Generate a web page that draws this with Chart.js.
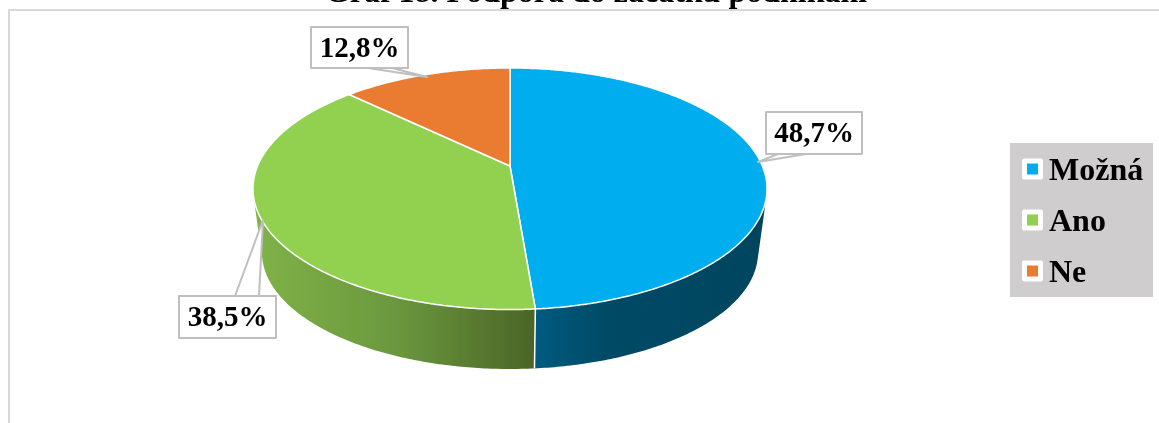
<!DOCTYPE html>
<html lang="cs">
<head>
<meta charset="utf-8">
<title>Graf 18</title>
<style>
  html, body { margin: 0; padding: 0; background: #fff; overflow: hidden; }
  canvas { display: block; }
</style>
</head>
<body>
<canvas id="chart" width="1159" height="423"></canvas>
<script src="https://cdn.jsdelivr.net/npm/chart.js@4/dist/chart.umd.min.js"></script>
<script>
const categories = ['Možná', 'Ano', 'Ne'];
const shares = [48.7, 38.5, 12.8];
const topColors = ['#00AEEF', '#92D050', '#E97C30'];
const chartTitle = 'Graf 18. Podpora do začátku podnikání';

const SERIF = '"Liberation Serif", "Times New Roman", serif';

// Perspective disc: the top rim and the lower rim use the same projection
const tilt = 0.1884;
const topRim = { cx: 510, cy: 166, rx: 252.4, ry: 116.5 };
const lowRim = { cx: 510, cy: 230.5, rx: 243.6, ry: 112.4 };

// Side wall shading per slice, left to right
const wallShades = [
  { from: 535, to: 767, stops: [[0, '#005B80'], [0.3, '#004A66'], [1, '#00455E']] },
  { from: 255, to: 535, stops: [[0, '#7FB247'], [0.5, '#6B983E'], [1, '#4A6527']] },
  { from: 350, to: 510, stops: [[0, '#A65A22'], [1, '#A65A22']] }
];

// Callout boxes around the value labels
const callouts = [
  { box: [766, 112, 96, 42], tail: [[778, 154], [758, 162], [806, 154]] },
  { box: [179, 296, 97, 42], tail: [[235, 296], [263, 220], [259, 296]] },
  { box: [311, 27, 97, 41], tail: [[368, 68], [427, 77], [392, 68]] }
];

function rimPoint(rim, angle) {
  const w = 1 / (1 - tilt * Math.sin(angle));
  return [rim.cx + rim.rx * Math.cos(angle) * w, rim.cy + rim.ry * Math.sin(angle) * w];
}

function traceRim(ctx, rim, from, to) {
  const steps = Math.max(2, Math.ceil(Math.abs(to - from) * 120));
  for (let i = 0; i <= steps; i++) {
    const p = rimPoint(rim, from + (to - from) * i / steps);
    ctx.lineTo(p[0], p[1]);
  }
}

// adds one wall strip to the current path, always wound the same way
function addStrip(ctx, a, b) {
  const quad = [rimPoint(topRim, a), rimPoint(topRim, b), rimPoint(lowRim, b), rimPoint(lowRim, a)];
  let area = 0;
  quad.forEach((p, i) => {
    const q = quad[(i + 1) % 4];
    area += p[0] * q[1] - q[0] * p[1];
  });
  if (area < 0) quad.reverse();
  ctx.moveTo(quad[0][0], quad[0][1]);
  for (let i = 1; i < 4; i++) ctx.lineTo(quad[i][0], quad[i][1]);
  ctx.closePath();
}

const pieDisc = {
  id: 'pieDisc',
  beforeDraw(chart) {
    const ctx = chart.ctx;
    ctx.save();
    ctx.fillStyle = '#fff';
    ctx.fillRect(0, 0, chart.width, chart.height);
    ctx.strokeStyle = '#D9D9D9';
    ctx.lineWidth = 2;
    ctx.beginPath();
    ctx.moveTo(9, 430);
    ctx.lineTo(9, 10);
    ctx.lineTo(1170, 10);
    ctx.stroke();
    ctx.restore();
  },
  // the arcs are painted here so the slices follow the tilted projection
  beforeDatasetDraw(chart) {
    const ctx = chart.ctx;
    const arcs = chart.getDatasetMeta(0).data;
    ctx.save();
    ctx.lineJoin = 'round';

    // walls, back slice first; every strip goes in one path so no seams show
    [2, 0, 1].forEach(i => {
      const shade = wallShades[i];
      const grad = ctx.createLinearGradient(shade.from, 0, shade.to, 0);
      shade.stops.forEach(s => grad.addColorStop(s[0], s[1]));
      const start = arcs[i].startAngle;
      const end = arcs[i].endAngle;
      const n = Math.ceil((end - start) * 90);
      ctx.beginPath();
      for (let k = 0; k < n; k++) {
        addStrip(ctx, start + (end - start) * k / n, start + (end - start) * (k + 1) / n);
      }
      ctx.fillStyle = grad;
      ctx.fill('nonzero');
    });

    // seam between the two front slices
    const seam = arcs[0].endAngle;
    const seamTop = rimPoint(topRim, seam);
    const seamLow = rimPoint(lowRim, seam);
    ctx.strokeStyle = '#fff';
    ctx.lineWidth = 1.5;
    ctx.beginPath();
    ctx.moveTo(seamTop[0], seamTop[1]);
    ctx.lineTo(seamLow[0], seamLow[1]);
    ctx.stroke();

    // top faces
    arcs.forEach((arc, i) => {
      ctx.beginPath();
      ctx.moveTo(topRim.cx, topRim.cy);
      traceRim(ctx, topRim, arc.startAngle, arc.endAngle);
      ctx.closePath();
      ctx.fillStyle = topColors[i];
      ctx.fill();
      ctx.strokeStyle = '#fff';
      ctx.lineWidth = 1.5;
      ctx.stroke();
    });
    ctx.restore();
    return false;
  },
  afterDatasetsDraw(chart) {
    const ctx = chart.ctx;
    ctx.save();
    ctx.lineJoin = 'round';

    // value labels in their callouts
    callouts.forEach((c, i) => {
      const [x, y, w, h] = c.box;
      ctx.fillStyle = '#fff';
      ctx.strokeStyle = '#BFBFBF';
      ctx.lineWidth = 2;
      ctx.beginPath();
      ctx.moveTo(c.tail[0][0], c.tail[0][1]);
      ctx.lineTo(c.tail[1][0], c.tail[1][1]);
      ctx.lineTo(c.tail[2][0], c.tail[2][1]);
      ctx.fill();
      ctx.stroke();
      ctx.fillRect(x, y, w, h);
      ctx.strokeRect(x, y, w, h);
      ctx.fillStyle = '#000';
      ctx.font = 'bold 29px ' + SERIF;
      ctx.textAlign = 'center';
      ctx.textBaseline = 'middle';
      ctx.fillText(shares[i].toFixed(1).replace('.', ',') + '%', x + w / 2, y + h / 2 + 2);
    });

    // legend panel
    ctx.fillStyle = '#CFCDCE';
    ctx.fillRect(1010, 143, 143, 154);
    ctx.textAlign = 'left';
    ctx.textBaseline = 'middle';
    ctx.font = 'bold 32px ' + SERIF;
    categories.forEach((name, i) => {
      const y = 169 + i * 51;
      ctx.fillStyle = '#fff';
      ctx.beginPath();
      ctx.roundRect(1022, y - 10.5, 21, 21, 2);
      ctx.fill();
      ctx.fillStyle = topColors[i];
      ctx.fillRect(1027, y - 5.5, 11, 11);
      ctx.fillStyle = '#000';
      ctx.fillText(name, 1049, y + 3);
    });
    ctx.restore();
  }
};

new Chart(document.getElementById('chart'), {
  type: 'pie',
  data: {
    labels: categories,
    datasets: [{ data: shares, backgroundColor: topColors }]
  },
  options: {
    responsive: false,
    animation: false,
    layout: { padding: { top: -25, left: 33 } },
    plugins: {
      legend: { display: false },
      tooltip: { enabled: false },
      title: {
        display: true,
        text: chartTitle,
        color: '#000',
        padding: 0,
        font: { family: SERIF, size: 32, weight: 'bold', lineHeight: 1.15 }
      }
    }
  },
  plugins: [pieDisc]
});
</script>
</body>
</html>
